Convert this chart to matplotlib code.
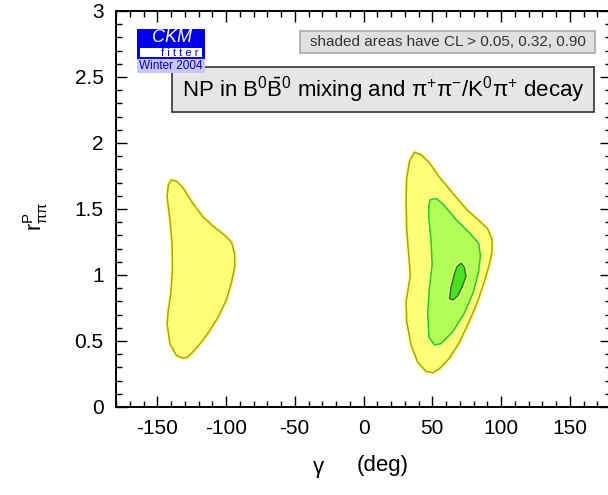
"""
CKMfitter-style plot: NP in B0-B0bar mixing, r^P_pipi vs gamma
"""

import matplotlib
matplotlib.use('Agg')
import matplotlib.pyplot as plt
from matplotlib.patches import Rectangle
from matplotlib.ticker import MultipleLocator

plt.rcParams['font.family'] = ['Liberation Sans', 'DejaVu Sans']
plt.rcParams['mathtext.fontset'] = 'custom'
plt.rcParams['mathtext.rm'] = 'Liberation Sans'
plt.rcParams['mathtext.it'] = 'Liberation Sans:italic'
plt.rcParams['axes.unicode_minus'] = False

# contour outlines (gamma in deg, r^P_pipi)
left_cl05_gamma = [-139.7, -136.0, -131.2, -124.0, -116.7, -109.4, -100.9, -96.1,
                   -93.7, -93.7, -96.1, -99.8, -105.8, -113.0, -120.3, -127.6,
                   -131.2, -136.0, -140.8, -142.8, -142.0, -140.1, -138.9, -139.2,
                   -140.8, -142.8, -142.0]
left_cl05_r = [1.72, 1.71, 1.66, 1.54, 1.44, 1.37, 1.30, 1.25, 1.16, 1.06, 0.94,
               0.81, 0.68, 0.56, 0.46, 0.38, 0.37, 0.39, 0.48, 0.63, 0.73, 0.86,
               1.04, 1.24, 1.42, 1.59, 1.68]

right_cl05_gamma = [37.0, 41.9, 47.9, 55.2, 64.9, 74.6, 84.2, 90.3, 93.5, 93.5, 91.5,
                    87.9, 83.0, 77.0, 69.7, 62.5, 55.2, 50.3, 45.5, 39.4, 34.6, 31.4,
                    31.0, 32.9, 34.1, 32.9, 31.4, 31.0, 31.4, 33.4]
right_cl05_r = [1.93, 1.91, 1.85, 1.74, 1.62, 1.50, 1.41, 1.35, 1.27, 1.18, 1.08,
                0.95, 0.80, 0.65, 0.49, 0.37, 0.29, 0.26, 0.27, 0.34, 0.47, 0.65,
                0.80, 0.92, 1.00, 1.15, 1.35, 1.56, 1.73, 1.86]

right_cl32_gamma = [48.4, 52.8, 57.6, 67.3, 77.0, 83.8, 85.0, 83.8, 79.9, 73.3, 64.9,
                    56.4, 51.6, 47.5, 46.7, 47.9, 49.9, 49.2, 47.5, 47.5]
right_cl32_r = [1.57, 1.58, 1.54, 1.42, 1.32, 1.24, 1.15, 1.03, 0.87, 0.71, 0.57,
                0.48, 0.47, 0.53, 0.72, 0.90, 1.08, 1.25, 1.43, 1.53]

right_cl90_gamma = [70.9, 73.3, 74.6, 72.1, 68.5, 64.9, 62.5, 63.7, 66.1, 67.8]
right_cl90_r = [1.09, 1.06, 0.99, 0.92, 0.84, 0.81, 0.82, 0.91, 1.01, 1.06]

W, H = 608, 495


def fx(px):
    return px / W


def fy(py):
    return 1 - py / H


fig = plt.figure(figsize=(6.08, 4.95), dpi=100)
ax = fig.add_axes([fx(116), fy(407), (611 - 116) / W, (407 - 11) / H])

regions = [
    (left_cl05_gamma, left_cl05_r, '#ffff77', '#a8a800'),
    (right_cl05_gamma, right_cl05_r, '#ffff77', '#a8a800'),
    (right_cl32_gamma, right_cl32_r, '#b4ff55', '#22cc22'),
    (right_cl90_gamma, right_cl90_r, '#4ee01e', '#118811'),
]
for g, r, fc, ec in regions:
    ax.fill(g, r, facecolor=fc, edgecolor='#ffff99', linewidth=3.0, joinstyle='round')
    ax.fill(g, r, facecolor=fc, edgecolor=ec, linewidth=1.1, joinstyle='round')

ax.set_xlim(-180, 180)
ax.set_ylim(0, 3)
ax.xaxis.set_minor_locator(MultipleLocator(10))
ax.yaxis.set_minor_locator(MultipleLocator(0.1))
ax.set_yticks([0, 0.5, 1, 1.5, 2, 2.5, 3])
ax.set_yticklabels(['0', '0.5', '1', '1.5', '2', '2.5', '3'])
ax.set_xticks([-150, -100, -50, 0, 50, 100, 150])
ax.tick_params(which='both', direction='in', top=True, right=True, width=1.0,
               labelsize=15, pad=9)
ax.tick_params(which='major', length=8)
ax.tick_params(which='minor', length=4)
for s in ax.spines.values():
    s.set_linewidth(1.4)

fig.text(fx(318), fy(467), 'γ', fontsize=16, ha='center', va='center')
fig.text(fx(383), fy(466), '(deg)', fontsize=16, ha='center', va='center')
fig.text(fx(36), fy(216), r'$\mathrm{r}^{\mathrm{P}}_{\mathrm{ππ}}$', fontsize=15.5,
         rotation=90, ha='center', va='center')

# CL box
fig.patches.append(Rectangle((fx(300), fy(53)), (595 - 300) / W, (53 - 31) / H,
                             transform=fig.transFigure, facecolor='#e0e0e0',
                             edgecolor='#a8a8a8', linewidth=1.2))
fig.text(fx(448), fy(42), 'shaded areas have CL > 0.05, 0.32, 0.90', fontsize=11,
         color='#333333', ha='center', va='center')

# title box
fig.patches.append(Rectangle((fx(172), fy(112)), (594 - 172) / W, (112 - 67) / H,
                             transform=fig.transFigure, facecolor='#e6e6e6',
                             edgecolor='#333333', linewidth=1.2))
fig.text(fx(383), fy(90),
         r'NP in B$^0\bar{\mathrm{B}}^0$ mixing and $\mathrm{π}^{+}\mathrm{π}^{-}$'
         r'/K$^0\mathrm{π}^{+}$ decay',
         fontsize=16, ha='center', va='center')

# CKMfitter logo
fig.patches.append(Rectangle((fx(137), fy(59)), 68 / W, 30 / H, transform=fig.transFigure,
                             facecolor='#0000ee', edgecolor='none'))
fig.patches.append(Rectangle((fx(140), fy(57)), 62 / W, 9 / H, transform=fig.transFigure,
                             facecolor='white', edgecolor='none'))
fig.patches.append(Rectangle((fx(137), fy(73)), 68 / W, 14 / H, transform=fig.transFigure,
                             facecolor='#c8c8ff', edgecolor='none'))
fig.text(fx(172), fy(38), 'CKM', fontsize=13, style='italic', color='white',
         ha='center', va='center')
fig.text(fx(180), fy(53), 'f i t t e r', fontsize=8, color='#0000ee',
         ha='center', va='center')
fig.text(fx(171), fy(66), 'Winter 2004', fontsize=8.5, color='#0000cc',
         ha='center', va='center')

plt.savefig('out.png', dpi=100)
